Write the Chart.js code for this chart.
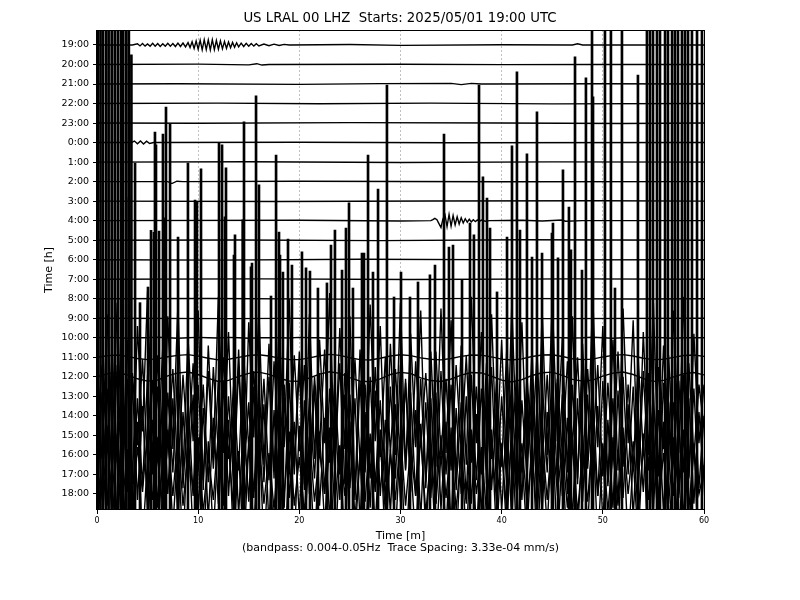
<!DOCTYPE html>
<html><head><meta charset="utf-8">
<script src="https://cdn.jsdelivr.net/npm/chart.js@4.4.1/dist/chart.umd.min.js"></script>
<style>html,body{margin:0;padding:0;background:#fff;}canvas{display:block;}</style>
</head><body>
<canvas id="c" width="800" height="600"></canvas>
<script>
// ---- tick labels ----
const hours = ['19:00','20:00','21:00','22:00','23:00','0:00','1:00','2:00','3:00','4:00','5:00','6:00',
  '7:00','8:00','9:00','10:00','11:00','12:00','13:00','14:00','15:00','16:00','17:00','18:00'];
const xTicks = [0,10,20,30,40,50,60];

// ---- quiet traces: [minute, offset in trace spacings] ----
const tr1900 = [[0,0],[3.5,0],[4,0.06],[4.25,-0.05],[4.5,0.07],[4.75,-0.06],[5,0.05],[5.25,-0.07],[5.5,0.08],[5.75,-0.06],[6,0.07],[6.25,-0.08],[6.5,0.06],[6.75,-0.07],[7,0.08],[7.25,-0.06],[7.5,0.07],[7.75,-0.08],[8,0.09],[8.25,-0.08],[8.5,0.1],[8.75,-0.1],[9,0.12],[9.2,-0.13],[9.4,0.16],[9.6,-0.18],[9.8,0.2],[10,-0.22],[10.2,0.24],[10.4,-0.25],[10.6,0.27],[10.8,-0.24],[11,0.26],[11.2,-0.25],[11.4,0.27],[11.6,-0.24],[11.8,0.23],[12,-0.22],[12.2,0.21],[12.4,-0.2],[12.6,0.18],[12.8,-0.17],[13,0.15],[13.2,-0.14],[13.4,0.13],[13.6,-0.12],[13.8,0.11],[14,-0.1],[14.25,0.09],[14.5,-0.08],[14.75,0.08],[15,-0.07],[15.25,0.07],[15.5,-0.06],[15.75,0.06],[16,-0.05],[16.5,0.05],[17,-0.04],[17.5,0.04],[18,-0.03],[18.5,0.03],[19,0],[25,0.02],[30,-0.02],[40,0.01],[47,0],[47.5,0.06],[48,0],[60,0]];
const tr2000 = [[0,0],[10,0.02],[15,-0.02],[15.8,0.04],[16.3,-0.03],[17,0],[30,0.01],[40,-0.01],[49,0],[60,0]];
const tr2100 = [[0,0],[8,0.01],[20,-0.02],[28,0.02],[35,0.03],[36,-0.03],[37,0.03],[38,0],[50,0.01],[60,0]];
const tr2200 = [[0,0],[12,0.02],[22,-0.01],[33,0.02],[45,-0.02],[60,0]];
const tr2300 = [[0,0],[10,-0.01],[25,0.02],[40,0],[52,-0.02],[60,0]];
const tr0000 = [[0,0],[3.4,0],[3.7,0.08],[4,-0.06],[4.3,0.08],[4.6,-0.07],[4.9,0.07],[5.2,-0.05],[5.6,0],[20,0.02],[35,-0.01],[60,0]];
const tr0100 = [[0,0],[15,0.02],[30,-0.02],[45,0.01],[60,0]];
const tr0200 = [[0,0],[7,0],[7.4,-0.1],[7.9,0.02],[8.5,0],[20,0.02],[40,-0.01],[60,0]];
const tr0300 = [[0,0],[18,-0.02],[33,0.01],[50,0.02],[60,0]];
const tr0400 = [[0,0],[20,0.02],[30,-0.02],[33,0],[33.2,0.05],[33.4,0.12],[33.6,0.05],[33.8,-0.15],[34,-0.35],[34.2,0.1],[34.4,0.3],[34.6,-0.3],[34.8,0.32],[35,-0.28],[35.2,0.26],[35.4,-0.22],[35.6,0.2],[35.8,-0.17],[36,0.15],[36.2,-0.12],[36.4,0.1],[36.6,-0.08],[36.8,0.07],[37,-0.06],[37.2,0.05],[37.4,-0.05],[37.6,0.04],[37.8,-0.04],[38,0.03],[38.4,-0.03],[38.8,0],[42,0.02],[44,-0.02],[46,0.03],[46.3,-0.03],[48,0],[60,0]];
const tr0500 = [[0,0],[14,0.01],[28,-0.02],[42,0.02],[60,0]];
const tr0600 = [[0,0],[12,-0.02],[26,0.02],[44,-0.01],[60,0]];
const tr0700 = [[0,0],[16,0.02],[31,-0.01],[47,0.02],[60,0]];
const tr0800 = [[0,0],[11,0.01],[24,-0.02],[39,0.02],[53,-0.01],[60,0]];
const tr0900 = [[0,0],[13,-0.02],[29,0.02],[45,-0.02],[60,0]];

// ---- moderate traces, one value per minute ----
const tr1000 = [0,0.02,0,-0.02,0.01,0,0.03,0,-0.02,0,0.02,0,-0.01,0.02,0,-0.02,0,0.01,0,-0.01,0.02,0,0,-0.02,0.01,0,0.02,0,-0.01,0,0.01,0,-0.02,0,0.02,0,-0.01,0,0.02,0,0,-0.02,0,0.01,0,0.02,0,-0.01,0,0.03,0,-0.02,0,0.01,0,0.02,0,-0.02,0,0.01,0];
const tr1100 = [0,0.08,0.12,0.05,-0.06,-0.12,-0.08,0.03,0.1,0.14,0.06,-0.05,-0.13,-0.1,0,0.09,0.13,0.07,-0.04,-0.11,-0.12,-0.03,0.08,0.15,0.1,-0.02,-0.12,-0.14,-0.05,0.07,0.13,0.09,-0.03,-0.1,-0.13,-0.06,0.05,0.12,0.11,0.02,-0.09,-0.14,-0.08,0.04,0.12,0.13,0.04,-0.07,-0.12,-0.09,0.02,0.1,0.14,0.07,-0.05,-0.12,-0.1,0,0.09,0.12,0.05];
const tr1200 = [0,0.15,0.22,0.1,-0.1,-0.22,-0.16,0.05,0.2,0.25,0.12,-0.08,-0.24,-0.18,0.02,0.18,0.24,0.13,-0.07,-0.21,-0.23,-0.06,0.14,0.26,0.18,-0.04,-0.22,-0.25,-0.1,0.12,0.23,0.17,-0.05,-0.19,-0.24,-0.11,0.09,0.22,0.2,0.03,-0.17,-0.26,-0.14,0.07,0.21,0.24,0.08,-0.13,-0.22,-0.17,0.04,0.19,0.25,0.12,-0.09,-0.23,-0.18,0,0.16,0.22,0.1];

// ---- noisy traces, one value per half minute ----
const tr1300 = [0.8,-3.2,4.2,-2.4,4.8,-3.8,2.9,-4.5,3.6,-1.8,5.4,-3.3,2.1,-4.4,4.1,-2.7,4.7,-3.9,3.0,-2.3,
 4.4,-4.8,2.6,-3.0,5.1,-2.9,3.3,-4.1,2.4,-4.7,3.8,-2.1,4.5,-3.5,2.7,-4.2,3.9,-2.6,5.0,-3.6,
 2.3,-4.5,4.2,-3.2,2.9,-2.4,5.3,-3.9,3.5,-2.7,4.1,-5.0,2.4,-3.3,4.7,-2.3,3.6,-4.4,2.7,-3.0,
 4.8,-3.8,3.2,-2.6,4.4,-4.7,2.3,-3.6,4.5,-2.9,3.9,-4.2,2.6,-3.5,5.1,-2.4,3.3,-4.5,4.2,-3.2,
 2.9,-4.1,4.7,-2.7,3.8,-3.6,2.4,-4.8,4.4,-3.0,5.0,-2.3,3.0,-3.9,4.1,-4.5,2.7,-3.3,5.3,-2.6,
 3.6,-4.4,2.9,-3.8,4.5,-2.4,3.9,-4.7,3.3,-3.0,4.8,-4.1,2.6,-3.5,4.4,-2.9,5.1,-4.2,3.2,-2.4,0.6];
const tr1400 = [-0.8,2.6,-1.9,3.3,-2.4,1.7,-3.1,2.2,-1.5,2.9,-2.7,1.8,-2.0,3.5,-1.6,2.4,-3.0,2.1,-1.8,2.7,
 -2.3,1.6,-3.4,2.5,-1.9,3.0,-2.2,1.5,-2.8,3.2,-1.7,2.3,-2.6,1.9,-3.3,2.8,-2.0,1.6,-2.5,3.1,
 -1.8,2.6,-2.9,2.0,-1.5,3.4,-2.4,1.8,-3.0,2.2,-1.7,2.9,-2.3,1.6,-3.2,2.5,-2.1,3.0,-1.9,2.4,
 -2.7,1.7,-3.1,2.8,-1.6,2.2,-2.5,3.3,-2.0,1.9,-2.8,2.6,-1.8,3.1,-2.4,1.5,-3.0,2.7,-2.2,1.8,
 -2.6,3.4,-1.7,2.3,-2.9,2.0,-1.6,3.2,-2.5,2.1,-3.3,1.9,-2.0,2.8,-1.5,3.0,-2.7,2.4,-1.8,2.6,
 -3.1,1.7,-2.2,3.3,-2.6,1.6,-2.8,2.9,-1.9,2.2,-3.0,2.5,-1.7,3.1,-2.3,1.8,-2.9,2.7,-2.1,1.6,-0.6];
const tr1500 = [1.2,-3.0,2.4,-2.2,3.6,-1.8,2.9,-3.4,1.9,-2.6,3.1,-2.0,2.5,-3.5,2.2,-1.9,3.8,-2.7,1.8,-3.1,
 2.6,-2.3,3.3,-1.7,2.8,-3.6,2.0,-2.5,3.5,-2.1,1.7,-3.2,2.9,-2.4,3.0,-1.8,2.3,-3.7,2.7,-2.0,
 3.4,-2.8,1.9,-2.2,3.2,-3.0,2.4,-1.6,3.7,-2.5,2.1,-3.3,2.8,-1.9,3.0,-2.6,1.8,-3.4,2.5,-2.2,
 3.6,-1.7,2.2,-3.1,2.9,-2.4,1.9,-3.5,3.3,-2.0,2.6,-2.8,1.7,-3.2,3.1,-2.3,2.4,-1.8,3.5,-2.9,
 2.0,-2.5,3.2,-3.3,1.8,-2.1,2.7,-3.6,2.9,-1.9,3.4,-2.4,2.1,-3.0,2.6,-2.2,3.8,-1.7,2.3,-3.1,
 2.8,-2.6,1.9,-3.4,3.0,-2.0,2.5,-2.9,3.3,-1.8,2.2,-3.5,2.7,-2.3,1.7,-3.0,3.1,-2.1,2.4,-2.7,1.0];
const tr1600 = [-1.5,3.2,-2.6,2.1,-3.4,2.8,-1.9,3.7,-2.3,2.5,-3.0,1.8,-2.7,3.4,-2.0,2.9,-3.6,2.2,-1.7,3.1,
 -2.8,2.4,-3.3,1.9,-2.5,3.8,-2.1,2.7,-3.1,2.0,-2.4,3.5,-1.8,2.6,-3.7,2.3,-2.9,3.0,-2.2,1.7,
 -3.2,2.8,-2.0,3.6,-2.6,1.9,-3.4,2.5,-2.3,3.1,-1.7,2.9,-3.5,2.2,-2.7,3.3,-2.1,1.8,-3.0,2.6,
 -2.4,3.9,-1.9,2.3,-3.3,2.7,-2.2,3.2,-2.8,1.7,-3.6,2.4,-2.0,3.0,-2.5,2.1,-3.1,3.4,-1.8,2.6,
 -2.9,2.0,-3.4,2.8,-2.3,3.5,-1.7,2.4,-3.0,2.2,-2.6,3.7,-2.1,1.9,-3.3,2.9,-2.4,3.1,-2.0,2.5,
 -3.5,1.8,-2.7,3.3,-2.2,2.6,-3.2,2.0,-1.9,3.6,-2.8,2.3,-3.0,2.7,-2.1,1.8,-3.4,2.9,-2.5,2.2,-1.2];
const tr1700 = [0.3,-1.2,1.6,-1.0,2.1,-1.5,1.1,-1.9,1.4,-0.9,2.3,-1.3,1.0,-1.7,1.8,-1.1,2.0,-1.6,1.2,-0.8,
 1.9,-2.0,1.0,-1.3,2.2,-1.2,1.4,-1.8,1.0,-2.1,1.6,-0.9,2.0,-1.5,1.1,-1.8,1.7,-1.0,2.2,-1.6,
 0.9,-2.0,1.9,-1.4,1.2,-1.0,2.4,-1.7,1.5,-1.1,1.8,-2.2,1.0,-1.4,2.1,-0.9,1.6,-1.9,1.1,-1.3,
 2.1,-1.6,1.4,-1.1,1.9,-2.0,1.0,-1.5,2.0,-1.2,1.7,-1.8,1.1,-1.5,2.3,-1.0,1.4,-2.0,1.8,-1.4,
 1.2,-1.8,2.0,-1.1,1.6,-1.5,1.0,-2.1,1.9,-1.3,2.2,-0.9,1.3,-1.7,1.8,-2.0,1.1,-1.4,2.3,-1.1,
 1.6,-1.9,1.2,-1.6,2.0,-1.0,1.7,-2.0,1.4,-1.3,2.1,-1.8,1.1,-1.5,1.9,-1.2,2.2,-1.8,1.4,-1.0,0.2];
const tr1800 = [2.0,-2.4,3.5,-1.6,2.8,-3.0,2.3,-1.9,3.7,-2.5,1.8,-3.2,2.9,-2.0,3.3,-1.7,2.5,-2.8,3.6,-2.2,
 1.9,-3.4,2.7,-2.1,3.0,-1.8,3.8,-2.6,2.2,-3.1,2.6,-1.9,3.4,-2.7,2.0,-2.3,3.1,-3.5,1.7,-2.4,
 3.5,-2.0,2.4,-2.9,3.2,-1.6,2.8,-3.3,2.1,-2.5,3.7,-2.2,1.9,-3.0,2.9,-1.7,3.3,-2.8,2.3,-2.1,
 3.0,-3.4,1.8,-2.6,3.6,-2.0,2.5,-3.1,2.2,-1.9,3.4,-2.7,2.7,-2.4,3.1,-1.8,2.0,-3.5,3.3,-2.3,
 2.6,-2.0,3.8,-2.9,1.9,-2.2,3.2,-3.0,2.4,-1.7,3.5,-2.6,2.1,-3.3,2.8,-2.1,3.0,-1.8,3.6,-2.5,
 2.3,-3.2,2.9,-2.0,3.4,-2.7,1.8,-2.4,3.1,-3.0,2.5,-1.9,3.7,-2.3,2.2,-2.8,3.3,-2.1,2.6,-3.4,1.5];

// ---- large spikes rising from the lower traces: time [min] and top level [trace rows, -1 = off the top] ----
const spikeTimes = [0.1,0.35,0.6,0.9,1.15,1.45,1.75,2.05,2.35,2.6,2.9,3.15,3.4,
  3.16,3.76,4.25,5.04,5.34,5.63,5.73,5.83,6.13,6.52,6.72,6.82,7.22,8.01,8.99,9.69,9.88,10.28,
  12.06,12.36,12.65,12.75,13.54,13.64,14.4,14.53,15.22,15.32,15.72,16.01,17.2,17.7,17.99,18.09,18.38,18.88,
  19.27,20.26,20.66,21.05,21.84,22.73,23.13,23.52,24.22,24.61,24.91,25.3,26.19,26.39,26.79,27.28,27.78,28.66,
  29.36,30.05,30.94,31.73,32.91,33.41,34.3,34.79,35.19,36.08,36.87,37.26,37.76,38.15,38.55,38.85,39.54,
  40.53,41.02,41.51,41.81,42.5,43.0,43.49,43.99,44.97,45.07,45.57,46.06,46.65,46.85,47.25,47.94,48.33,
  48.93,49.03,50.21,50.8,51.2,51.89,53.47,54.36,54.66,54.96,55.35,55.65,56.15,56.44,56.84,57.13,57.43,
  57.82,58.12,58.42,58.81,59.31,59.8];
const spikeTops = [-1,-1,-1,-1,-1,-1,-1,-1,-1,-1,-1,-1,0.5,
  7.8,6.05,13.2,12.4,9.5,9.6,4.46,5.12,9.53,4.56,8.86,3.18,4.05,9.84,6.05,7.94,8.04,6.35,
  5.02,5.12,8.81,6.3,10.76,9.73,8.96,3.94,11.37,11.17,2.61,7.17,12.86,5.64,9.58,10.76,11.63,9.94,
  11.27,10.6,11.42,11.58,12.45,12.19,10.25,9.48,11.53,9.38,8.09,12.45,10.66,10.66,5.64,11.63,7.38,2.05,
  12.91,11.63,12.91,12.14,11.78,11.27,4.56,10.35,10.25,12.04,9.12,9.73,2.05,6.76,7.84,9.38,12.65,
  9.84,5.17,1.38,9.48,5.58,10.86,3.43,10.66,9.63,9.12,10.9,6.4,8.3,10.5,0.61,11.53,1.69,
  -1,2.66,-1,-1,12.45,-1,1.54,-1,-1,-1,-1,-1,-1,-1,-1,-1,-1,
  -1,-1,-1,-1,-1,-1];

const traceRows = [tr1900,tr2000,tr2100,tr2200,tr2300,tr0000,tr0100,tr0200,tr0300,tr0400,tr0500,tr0600,
  tr0700,tr0800,tr0900,tr1000,tr1100,tr1200,tr1300,tr1400,tr1500,tr1600,tr1700,tr1800];

function toPoints(arr, row) {
  if (Array.isArray(arr[0])) return arr.map(p => ({x: p[0], y: row - p[1]}));
  const step = 60 / (arr.length - 1);
  return arr.map((v, i) => ({x: i * step, y: row - v}));
}

const datasets = [];
traceRows.forEach((arr, row) => {
  const noisy = row >= 18;
  datasets.push({
    type: 'line', data: toPoints(arr, row), borderColor: '#000',
    borderWidth: 1.4, pointRadius: 0, tension: 0, clip: 0, order: noisy ? 2 : 0
  });
});
datasets.push({
  type: 'bar',
  data: spikeTimes.map((t, i) => ({x: t, y: [25, spikeTops[i]]})),
  backgroundColor: '#000', borderWidth: 0, barThickness: 2, clip: 0, order: 1
});

const FONT = 'DejaVu Sans';
Chart.defaults.color = '#000';
Chart.defaults.font.family = FONT;

const framePlugin = {
  id: 'frame',
  afterDraw(chart) {
    const {ctx, chartArea: a} = chart;
    ctx.save();
    ctx.strokeStyle = '#000';
    ctx.lineWidth = 1;
    ctx.strokeRect(Math.round(a.left) - 0.5, Math.round(a.top) + 0.5, Math.round(a.right - a.left) + 1, Math.round(a.bottom - a.top) - 1);
    ctx.restore();
  }
};

new Chart(document.getElementById('c'), {
  type: 'line',
  data: {datasets},
  plugins: [framePlugin],
  options: {
    responsive: false, animation: false, devicePixelRatio: 1, events: [],
    layout: {padding: 0},
    plugins: {
      legend: {display: false}, tooltip: {enabled: false},
      title: {display: true, text: 'US LRAL 00 LHZ  Starts: 2025/05/01 19:00 UTC',
        font: {size: 13.3, weight: 'normal', family: FONT}, color: '#000', padding: {top: 11, bottom: 3}}
    },
    scales: {
      x: {
        type: 'linear', min: 0, max: 60, offset: false,
        afterBuildTicks: s => { s.ticks = xTicks.map(v => ({value: v})); },
        afterFit: s => { s.height = 90; },
        ticks: {font: {size: 8}, padding: 2, maxRotation: 0, autoSkip: false},
        grid: {offset: false, color: c => (c.tick && c.tick.value > 0 && c.tick.value < 60) ? '#b0b0b0' : 'rgba(0,0,0,0)',
          lineWidth: 0.8, tickColor: '#000', tickLength: 4, tickWidth: 1},
        border: {display: false, dash: [2, 2]},
        title: {display: true, text: ['Time [m]', '(bandpass: 0.004-0.05Hz  Trace Spacing: 3.33e-04 mm/s)'],
          font: {size: 11, lineHeight: 1.1}, padding: {top: 0, bottom: 46}}
      },
      y: {
        type: 'linear', reverse: true, min: -0.768, max: 23.82, beginAtZero: false,
        afterBuildTicks: s => { s.ticks = hours.map((h, i) => ({value: i})); },
        afterFit: s => { s.width = 97; },
        ticks: {font: {size: 9.5}, padding: 4, autoSkip: false, callback: (v, i) => hours[i]},
        grid: {drawOnChartArea: false, drawTicks: true, tickLength: 4, tickColor: '#000', tickWidth: 1},
        border: {display: false},
        title: {display: true, text: 'Time [h]', font: {size: 11}, padding: {top: 43, bottom: 0}}
      },
      yRight: {
        type: 'linear', position: 'right', display: true,
        afterFit: s => { s.width = 96; },
        ticks: {display: false},
        grid: {display: false, drawTicks: false},
        border: {display: false}
      }
    }
  }
});
</script></body></html>
